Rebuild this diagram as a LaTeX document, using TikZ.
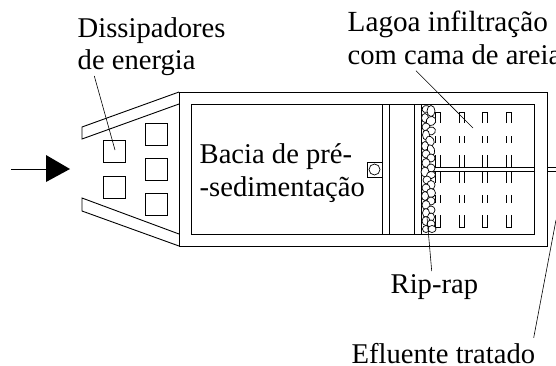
\documentclass[tikz,border=0pt]{standalone}
\usepackage{fontspec}
\setmainfont{Liberation Serif}
\tikzset{
  wall/.style={draw=black,line width=0.9pt},
  thin wall/.style={draw=black,line width=0.7pt},
  leader/.style={draw=black,line width=0.6pt},
  label/.style={font=\fontsize{28.6}{33}\selectfont,inner sep=0pt,anchor=base west},
  stone/.style={draw=black,fill=white,line width=0.7pt},
  slot/.style={draw=black,line width=0.7pt}
}
\begin{document}
\begin{tikzpicture}[x=1pt,y=-1pt]
\path[use as bounding box] (0,0) rectangle (556,365);
\clip (0,0) rectangle (556,365);
% funnel
\draw[wall] (179,92) -- (82,127) -- (82,139) -- (179,104);
\draw[wall] (179,246) -- (82,211) -- (82,198) -- (179,234);
% basin
\draw[wall] (179,92) rectangle (547,246);
\draw[wall] (191.5,104) rectangle (534.5,234);
\foreach \x in {382,389,414,421.7} \draw[wall] (\x,104) -- (\x,234);
% dissipators
\foreach \x/\y in {103/140,103/176,145/123,145/158,145/193}
  \draw[wall,fill=white] (\x,\y) rectangle ++(22,22);
% inlet arrow
\coordinate (in0) at (11,169);
\coordinate (in1) at (46,169);
\draw[leader] (in0) -- (in1);
\fill[black] (46,155) -- (70,169) -- (46,182) -- cycle;
% device
\draw[wall] (367,162) rectangle (382,177);
\draw[thin wall] (374.5,169.5) circle (5.5);
% slots
\foreach \x in {435,459,482.5,506} {
  \draw[slot] (\x,123) -- (\x,112) -- (\x+5,112) -- (\x+5,123);
  \draw[slot] (\x,215) -- (\x,227) -- (\x+5,227) -- (\x+5,215);
  \foreach \a/\b in {136/143,155/167,171/183,195/203} {
    \draw[slot] (\x,\a) -- (\x,\b);
    \draw[slot] (\x+5,\a) -- (\x+5,\b);
  }
}
% channel
\draw[thin wall] (432,167) -- (534.5,167) (432,171) -- (534.5,171);
\draw[thin wall] (547,167) -- (556,167) (547,171) -- (556,171);
% rip-rap stones
\foreach \x/\y/\a/\b/\r in {
 426/109/4/3.5/20, 431/111/4/5.5/0, 425/118/3.5/4.5/0, 431/121/5/4.5/30, 426/127/4/4/0, 431/131/4.5/4/20,
 426/135/3.5/5/0, 430/141/4/5/30, 425/146/3.5/4.5/0, 431/150/3.5/5.5/20, 426/154/4/4/0,
 431/158/4/4/0, 426/163/4/4.5/0, 431/168/4/4/0, 425/172/4/5/0, 431/175/4.5/3.5/10,
 427/180/4/4/0, 431/185/4/4.5/0, 426/188/4/4/0, 431/193/4.5/4.5/0, 425/196/3.5/4.5/0,
 431/201/4/4/0, 426/205/4/4.5/0, 431/210/4/4/0, 426/213/3.5/4.5/0, 431/217/3.5/4/0,
 426/221/4/4.5/0, 431/224/4/4/0, 426/229/3.5/3.5/0, 432/229/4/3.5/0}
  \draw[stone,rotate around={\r:(\x,\y)}] (\x,\y) ellipse ({\a} and {\b});
% labels
\node[label] (diss1) at (77.5,37) {Dissipadores};
\node[label] (diss2) at (77.5,69) {de energia};
\node[label,font=\fontsize{29.2}{33}\selectfont] (lag1) at (347.5,31) {Lagoa infiltração};
\node[label] (lag2) at (347.5,64) {com cama de areia};
\node[label] (bac1) at (199.5,163) {Bacia de pré-};
\node[label] (bac2) at (199.5,196) {-sedimentação};
\node[label] (rip) at (390.5,293) {Rip-rap};
\node[label] (efl) at (351.5,363) {Efluente tratado};
% leaders
\coordinate (t1) at (115,150);
\coordinate (t2) at (473,128);
\coordinate (t3) at (427,217);
\coordinate (t4) at (556,220);
\coordinate (f1) at (94.3,76);
\coordinate (f2) at (416,70.7);
\coordinate (f3) at (431.7,271);
\coordinate (f4) at (533.7,337.7);
\draw[leader] (f1) -- (t1);
\draw[leader] (f2) -- (t2);
\draw[leader] (f3) -- (t3);
\draw[leader] (f4) -- (t4);
\end{tikzpicture}
\end{document}
